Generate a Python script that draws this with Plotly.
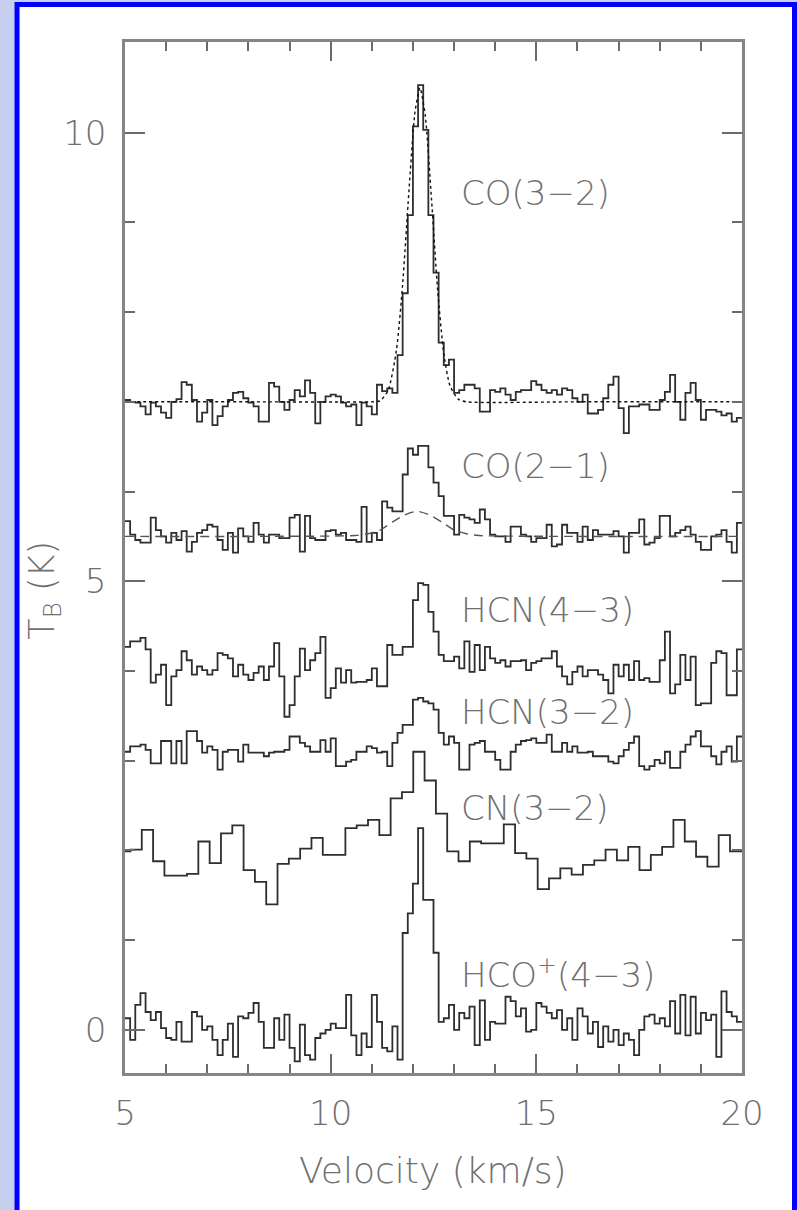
import plotly.graph_objects as go

# ---------------- data ----------------
# velocity grid: channel start and width (km/s)
V0_FINE = 5.0
DV_FINE = 0.125
V0_CN = 4.858
DV_CN = 0.275

co32 = [7.02, 7.00, 6.99, 6.95, 6.86, 6.99, 6.95, 6.88, 6.82, 7.00,
        7.03, 7.22, 7.19, 7.02, 6.78, 6.88, 7.02, 6.74, 6.84, 6.95,
        7.02, 7.10, 7.11, 7.04, 6.99, 6.95, 6.78, 6.78, 7.21, 7.17,
        7.00, 6.91, 7.02, 7.13, 7.06, 7.24, 7.10, 6.76, 7.00, 7.06,
        7.08, 7.06, 6.99, 6.95, 6.97, 6.74, 6.99, 6.95, 6.86, 7.19,
        7.12, 7.15, 7.10, 7.52, 8.21, 9.08, 10.07, 10.53, 10.03, 9.08,
        8.44, 7.66, 7.41, 7.47, 7.10, 7.13, 7.19, 7.19, 7.15, 6.89,
        6.89, 7.13, 7.11, 7.15, 7.08, 7.02, 7.11, 7.13, 7.13, 7.23,
        7.19, 7.13, 7.10, 7.13, 7.08, 7.15, 7.13, 7.04, 7.00, 7.08,
        6.87, 6.87, 6.91, 7.04, 7.19, 7.28, 6.93, 6.65, 6.95, 6.95,
        6.97, 6.97, 6.91, 6.91, 7.02, 7.11, 7.30, 7.00, 6.80, 7.10,
        7.21, 7.02, 6.80, 6.91, 6.91, 6.89, 6.85, 6.87, 6.78, 6.82]

co21 = [5.67, 5.52, 5.46, 5.43, 5.43, 5.71, 5.57, 5.50, 5.43, 5.54,
        5.46, 5.56, 5.33, 5.44, 5.54, 5.57, 5.63, 5.61, 5.46, 5.35,
        5.54, 5.32, 5.59, 5.50, 5.44, 5.65, 5.52, 5.43, 5.52, 5.52,
        5.48, 5.48, 5.71, 5.74, 5.33, 5.73, 5.48, 5.46, 5.46, 5.56,
        5.57, 5.52, 5.54, 5.46, 5.46, 5.44, 5.83, 5.44, 5.54, 5.46,
        5.89, 5.82, 5.78, 5.78, 6.19, 6.48, 6.41, 6.51, 6.51, 6.27,
        6.10, 5.95, 5.73, 5.73, 5.52, 5.74, 5.71, 5.69, 5.65, 5.80,
        5.69, 5.52, 5.50, 5.50, 5.44, 5.61, 5.61, 5.52, 5.50, 5.44,
        5.48, 5.48, 5.63, 5.39, 5.41, 5.63, 5.54, 5.54, 5.44, 5.61,
        5.46, 5.57, 5.52, 5.52, 5.52, 5.56, 5.50, 5.32, 5.54, 5.54,
        5.69, 5.41, 5.43, 5.48, 5.73, 5.73, 5.50, 5.54, 5.57, 5.61,
        5.52, 5.44, 5.35, 5.35, 5.50, 5.52, 5.57, 5.44, 5.32, 5.65]

hcn43 = [4.27, 4.33, 4.33, 4.37, 4.24, 3.87, 3.96, 4.07, 3.62, 3.94,
         4.01, 4.22, 4.12, 3.96, 4.05, 4.01, 3.96, 4.01, 4.20, 4.18,
         4.14, 3.94, 4.07, 3.96, 3.90, 3.98, 4.05, 3.90, 4.05, 4.31,
         3.94, 3.49, 3.62, 3.94, 4.25, 4.01, 4.12, 4.20, 4.38, 3.70,
         3.81, 4.03, 3.87, 4.01, 3.87, 3.88, 3.88, 3.90, 4.03, 3.83,
         3.83, 4.29, 4.18, 4.18, 4.27, 4.27, 4.79, 4.98, 4.96, 4.66,
         4.44, 4.18, 4.11, 4.11, 4.16, 4.03, 4.33, 3.99, 4.29, 4.01,
         4.27, 4.14, 4.09, 4.12, 4.05, 4.11, 4.11, 4.12, 4.01, 4.09,
         4.11, 4.14, 4.14, 4.22, 4.05, 3.94, 3.85, 3.99, 4.05, 3.94,
         4.01, 4.01, 3.96, 3.90, 3.75, 4.07, 3.94, 4.07, 3.90, 4.11,
         3.90, 3.92, 3.88, 3.88, 4.12, 4.44, 3.75, 3.85, 4.18, 3.90,
         4.16, 3.62, 3.64, 3.64, 4.09, 4.22, 4.20, 3.73, 3.73, 4.24]

hcn32 = [3.10, 3.16, 3.16, 3.18, 3.12, 2.97, 2.97, 3.22, 3.22, 2.97,
         3.22, 2.97, 3.33, 3.33, 3.22, 3.09, 3.16, 3.12, 2.90, 3.10,
         3.12, 3.12, 2.99, 3.18, 3.09, 3.09, 3.09, 3.05, 3.09, 3.10,
         3.10, 3.12, 3.27, 3.27, 3.20, 3.16, 3.10, 3.10, 3.23, 3.10,
         3.25, 2.94, 2.94, 2.99, 3.01, 3.10, 3.10, 3.16, 3.14, 3.09,
         3.10, 2.94, 3.20, 3.31, 3.40, 3.40, 3.68, 3.70, 3.66, 3.64,
         3.57, 3.31, 3.18, 3.27, 3.20, 2.90, 2.90, 3.18, 3.20, 3.22,
         3.10, 3.10, 3.01, 2.90, 2.90, 3.10, 3.18, 3.22, 3.23, 3.25,
         3.20, 3.20, 3.29, 3.10, 3.10, 3.20, 3.10, 3.16, 3.09, 3.09,
         3.10, 3.05, 3.05, 3.05, 2.99, 2.97, 3.05, 3.12, 3.20, 3.27,
         2.94, 2.90, 2.94, 3.01, 2.97, 3.10, 2.92, 2.92, 3.10, 3.18,
         3.27, 3.33, 3.16, 3.16, 3.05, 2.96, 3.10, 3.16, 2.99, 3.27]

cn32 = [1.99, 2.01, 2.23, 1.88, 1.72, 1.72, 1.74, 2.10, 1.86, 2.19,
        2.28, 1.78, 1.65, 1.40, 1.85, 1.91, 2.02, 2.14, 1.95, 1.95,
        2.25, 2.28, 2.34, 2.17, 2.58, 2.65, 3.10, 2.78, 2.41, 1.99,
        1.88, 2.10, 2.08, 2.08, 2.29, 1.97, 1.91, 1.57, 1.69, 1.80,
        1.73, 1.84, 1.89, 2.01, 1.89, 2.04, 1.78, 1.95, 2.04, 2.34,
        2.10, 1.93, 1.82, 2.17, 1.99, 1.99]

hco43 = [0.13, -0.11, 0.28, 0.41, 0.20, 0.11, 0.20, 0.02, -0.09, -0.11,
         0.09, -0.13, -0.13, 0.20, 0.15, 0.00, 0.04, -0.11, -0.28, -0.11,
         0.07, -0.30, 0.15, 0.13, 0.19, 0.30, 0.09, -0.20, -0.20, 0.13,
         -0.11, 0.17, -0.20, -0.35, 0.06, -0.28, -0.33, -0.09, -0.04, 0.00,
         0.07, 0.02, 0.02, 0.39, -0.06, -0.28, -0.04, -0.19, 0.39, 0.09,
         -0.20, -0.24, 0.04, -0.33, 1.08, 1.30, 1.63, 2.25, 1.45, 1.45,
         0.86, 0.09, 0.13, 0.28, 0.00, 0.19, 0.13, 0.26, -0.17, 0.33,
         -0.11, 0.09, 0.07, 0.07, 0.37, 0.32, 0.15, 0.24, -0.02, 0.00,
         0.30, 0.26, 0.19, 0.13, 0.22, 0.00, 0.13, -0.11, 0.24, 0.15,
         -0.04, 0.09, -0.19, 0.04, -0.13, 0.00, -0.17, -0.04, -0.11, -0.28,
         0.00, 0.15, 0.17, 0.07, 0.13, 0.04, 0.32, -0.04, 0.39, -0.06,
         0.37, -0.04, 0.19, 0.11, 0.17, -0.30, 0.43, 0.20, 0.15, 0.09]

fit32_v = [5.0, 8.0, 11.0, 11.2, 11.4, 11.6, 11.75, 11.9, 12.05, 12.17,
           12.3, 12.45, 12.6, 12.75, 12.9, 13.1, 13.3, 16.0, 20.0]
fit32_T = [7.0, 7.0, 7.0, 7.01, 7.13, 7.58, 8.31, 9.33, 10.23, 10.5,
           10.19, 9.27, 8.25, 7.54, 7.18, 7.03, 7.0, 7.0, 7.0]
fit21_v = [5.0, 8.0, 10.6, 10.9, 11.2, 11.5, 11.8, 12.1, 12.4, 12.7,
           13.0, 13.3, 13.6, 16.0, 20.0]
fit21_T = [5.5, 5.5, 5.51, 5.53, 5.57, 5.66, 5.74, 5.78, 5.74, 5.66,
           5.57, 5.53, 5.51, 5.5, 5.5]

labels = ["CO(3\u22122)", "CO(2\u22121)", "HCN(4\u22123)", "HCN(3\u22122)",
          "CN(3\u22122)", "HCO<sup>+</sup>(4\u22123)"]
label_T = [9.33, 6.28, 4.68, 3.545, 2.475, 0.63]
LABEL_V = 13.12

x_ticks = [5, 10, 15, 20]
y_ticks = [0, 5, 10]

# ---------------- figure ----------------
FONT = "DejaVu Sans"
TXT = "#707070"
LINE = "#2e2e2e"


def steps(v0, dv, vals):
    xs = [v0 + dv * i for i in range(len(vals) + 1)]
    ys = list(vals) + [vals[-1]]
    return xs, ys


fig = go.Figure()
for v0, dv, vals in [(V0_FINE, DV_FINE, co32), (V0_FINE, DV_FINE, co21),
                     (V0_FINE, DV_FINE, hcn43), (V0_FINE, DV_FINE, hcn32),
                     (V0_CN, DV_CN, cn32), (V0_FINE, DV_FINE, hco43)]:
    xs, ys = steps(v0, dv, vals)
    fig.add_trace(go.Scatter(x=xs, y=ys, mode="lines",
                             line=dict(shape="hv", color=LINE, width=1.8),
                             hoverinfo="skip", showlegend=False))

fig.add_trace(go.Scatter(x=fit32_v, y=fit32_T, mode="lines",
                         line=dict(shape="spline", smoothing=0.6, color="#111111",
                                   width=1.4, dash="3px,3px"),
                         hoverinfo="skip", showlegend=False))
fig.add_trace(go.Scatter(x=fit21_v, y=fit21_T, mode="lines",
                         line=dict(shape="spline", smoothing=0.6, color="#555555",
                                   width=1.4, dash="9px,6px"),
                         hoverinfo="skip", showlegend=False))

for txt, t in zip(labels, label_T):
    fig.add_annotation(x=LABEL_V, y=t, xref="x", yref="y", text=txt,
                       showarrow=False, xanchor="left", yanchor="middle",
                       font=dict(family=FONT, size=34, color=TXT, weight=200))

# axis titles
fig.add_annotation(x=-0.131, y=0.468, xref="paper", yref="paper",
                   text="T<sub>B</sub> (K)", textangle=-90, showarrow=False,
                   xanchor="center", yanchor="middle",
                   font=dict(family=FONT, size=35, color=TXT, weight=200))
fig.add_annotation(x=0.499, y=-0.095, xref="paper", yref="paper",
                   text="Velocity (km/s)", showarrow=False,
                   xanchor="center", yanchor="middle",
                   font=dict(family=FONT, size=36, color=TXT, weight=200))

# white panel with blue border on a pale background
fig.add_shape(type="rect", xref="paper", yref="paper",
              x0=-0.1750, x1=1.0851, y0=-0.16, y1=1.0364,
              fillcolor="white", line=dict(color="#0000ff", width=5),
              layer="below")

axis_common = dict(showline=True, linecolor="#858585", linewidth=2.5,
                   mirror="ticks", ticks="inside", tickcolor="#6a6a6a",
                   tickwidth=2, showgrid=False, zeroline=False,
                   tickfont=dict(family=FONT, size=34, color=TXT, weight=200))

fig.update_layout(
    width=797, height=1210,
    margin=dict(l=125, r=55, t=42, b=137, pad=0),
    paper_bgcolor="#c6d0ee", plot_bgcolor="rgba(0,0,0,0)",
    xaxis=dict(range=[5, 20], tickvals=x_ticks, ticklen=19,
               ticklabelstandoff=8,
               minor=dict(dtick=1, tick0=5, ticklen=9, ticks="inside",
                          tickcolor="#6a6a6a", tickwidth=2),
               **axis_common),
    yaxis=dict(range=[-0.48, 11.01], tickvals=y_ticks, ticklen=20,
               ticklabelstandoff=9,
               minor=dict(dtick=1, tick0=0, ticklen=10, ticks="inside",
                          tickcolor="#6a6a6a", tickwidth=2),
               **axis_common),
)

fig.write_html("out.html", config={"displayModeBar": False})
